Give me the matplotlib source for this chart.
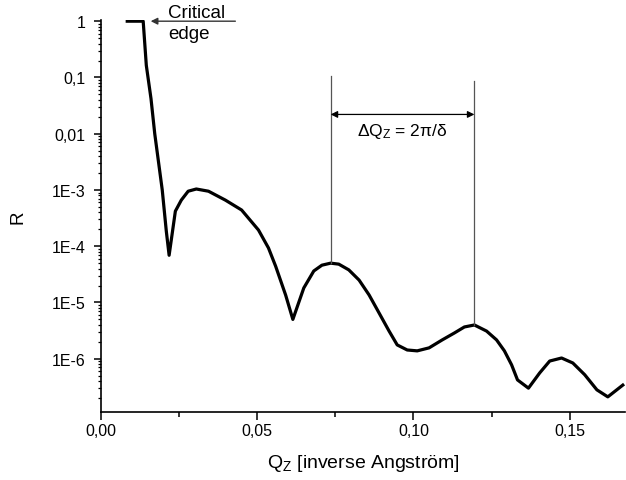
import matplotlib
matplotlib.use("Agg")
import matplotlib.pyplot as plt
from matplotlib.ticker import FixedLocator, FixedFormatter, LogLocator, MultipleLocator, NullFormatter

plt.rcParams['font.family'] = ['Liberation Sans', 'DejaVu Sans']
plt.rcParams['mathtext.fontset'] = 'custom'
plt.rcParams['mathtext.rm'] = 'Liberation Sans'
plt.rcParams['mathtext.it'] = 'Liberation Sans:italic'

# reflectivity curve, Qz in 1/Angstrom
qz = [0.0084, 0.0135, 0.0145, 0.0160, 0.0172, 0.0196, 0.0209, 0.0218, 0.0238,
      0.0257, 0.0279, 0.0305, 0.0344, 0.0398, 0.0450, 0.0504, 0.0536, 0.0559,
      0.0591, 0.0614, 0.0649, 0.0681, 0.0707, 0.0735, 0.0761, 0.0793, 0.0826,
      0.0858, 0.0890, 0.0922, 0.0948, 0.0980, 0.1012, 0.1050, 0.1092, 0.1131,
      0.1163, 0.1195, 0.1234, 0.1266, 0.1291, 0.1314, 0.1333, 0.1368, 0.1404,
      0.1436, 0.1474, 0.1510, 0.1548, 0.1587, 0.1622, 0.1670]
refl = [1.0, 1.0, 0.164, 0.042, 0.01, 1.0e-3, 1.85e-4, 6.9e-5, 4.2e-4,
        6.6e-4, 9.5e-4, 1.04e-3, 9.5e-4, 6.6e-4, 4.4e-4, 1.94e-4, 9.3e-5, 4.4e-5,
        1.35e-5, 5.0e-6, 1.81e-5, 3.63e-5, 4.6e-5, 5.0e-5, 4.8e-5, 3.8e-5, 2.5e-5,
        1.36e-5, 6.5e-6, 3.1e-6, 1.76e-6, 1.43e-6, 1.38e-6, 1.56e-6, 2.16e-6, 2.87e-6,
        3.67e-6, 3.98e-6, 3.1e-6, 2.16e-6, 1.38e-6, 7.8e-7, 4.2e-7, 3.0e-7, 5.6e-7,
        9.1e-7, 1.03e-6, 8.4e-7, 5.2e-7, 2.8e-7, 2.1e-7, 3.4e-7]

ytick_vals = [1, 0.1, 0.01, 1e-3, 1e-4, 1e-5, 1e-6]
ytick_labels = ["1", "0,1", "0,01", "1E-3", "1E-4", "1E-5", "1E-6"]
xtick_vals = [0.0, 0.05, 0.10, 0.15]
xtick_labels = ["0,00", "0,05", "0,10", "0,15"]

# Kiessig fringe spacing marked between two maxima
fringe_q = [0.0735, 0.1195]
fringe_top = [0.108, 0.088]
fringe_peak = [5.0e-5, 3.98e-6]

fig = plt.figure(figsize=(6.26, 4.81), dpi=100)
ax = fig.add_axes([101 / 626, 68 / 481, 524 / 626, 392 / 481])

ax.plot(qz, refl, color='black', lw=2.3, solid_joinstyle='round')
ax.set_yscale('log')
ax.set_xlim(0, 0.1677)
ax.set_ylim(1.13e-7, 1.05)

for sp in ['top', 'right']:
    ax.spines[sp].set_visible(False)
for sp in ['left', 'bottom']:
    ax.spines[sp].set_linewidth(1.2)

ax.yaxis.set_major_locator(FixedLocator(ytick_vals))
ax.yaxis.set_major_formatter(FixedFormatter(ytick_labels))
ax.yaxis.set_minor_locator(LogLocator(base=10, subs=range(2, 10), numticks=20))
ax.yaxis.set_minor_formatter(NullFormatter())
ax.xaxis.set_major_locator(FixedLocator(xtick_vals))
ax.xaxis.set_major_formatter(FixedFormatter(xtick_labels))
ax.xaxis.set_minor_locator(MultipleLocator(0.025))

ax.tick_params(axis='y', which='major', length=5, width=1.1, labelsize=11.5, pad=6)
ax.tick_params(axis='y', which='minor', length=2.5, width=0.9)
ax.tick_params(axis='x', which='major', length=6, width=1.1, labelsize=11.5, pad=2)
ax.tick_params(axis='x', which='minor', length=3.5, width=1.1)

ax.set_xlabel(r"Q$_\mathrm{Z}$ [inverse Angström]", fontsize=14, labelpad=10)
ax.set_ylabel("R", fontsize=13.5, labelpad=18)

# critical edge note
ax.annotate("", xy=(0.0159, 1.0), xytext=(0.0430, 1.0),
            arrowprops=dict(arrowstyle='-|>', color='#333333', lw=1.0,
                            mutation_scale=10, shrinkA=0, shrinkB=0))
ax.text(0.0215, 0.92, "Critical\nedge", fontsize=13.5, ha='left', va='center',
        linespacing=1.3)

# fringe period marker
for q, top, peak in zip(fringe_q, fringe_top, fringe_peak):
    ax.plot([q, q], [top, peak], color='#555555', lw=0.9)
ax.annotate("", xy=(fringe_q[0], 0.022), xytext=(fringe_q[1], 0.022),
            arrowprops=dict(arrowstyle='<|-|>', color='black', lw=0.9,
                            mutation_scale=10, shrinkA=0, shrinkB=0))
ax.text(sum(fringe_q) / 2, 0.0115, r"ΔQ$_\mathrm{Z}$ = 2π/δ", fontsize=12.5,
        ha='center', va='center')

fig.savefig("out.png", dpi=100)
